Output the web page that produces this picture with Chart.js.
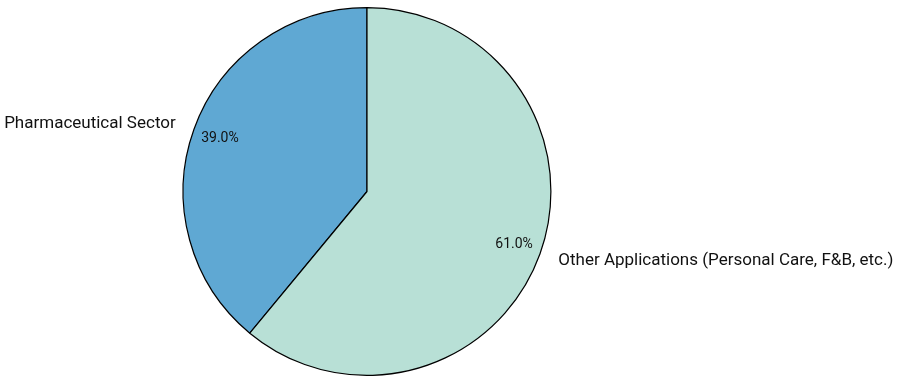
<!DOCTYPE html>
<html>
<head>
<meta charset="utf-8">
<script src="https://cdn.jsdelivr.net/npm/chart.js@4.4.0/dist/chart.umd.min.js"></script>
<style>
  html, body { margin: 0; padding: 0; background: #fff; }
  #wrap { width: 900px; height: 382px; }
</style>
</head>
<body>
<div id="wrap"><canvas id="myChart"></canvas></div>
<script>
// Slice labels and shares (percent)
var labels = ['Pharmaceutical Sector', 'Other Applications (Personal Care, F&B, etc.)'];
var shares = [39.0, 61.0];
var colors = ['#5FA8D3', '#B8E0D6'];

// Draw the outside labels and the percentages inside the slices
const sliceLabels = {
    id: 'sliceLabels',
    afterDraw(chart) {
        const ctx = chart.ctx;
        const meta = chart.getDatasetMeta(0);
        ctx.save();
        ctx.fillStyle = '#111';
        meta.data.forEach(function(arc, i) {
            const mid = (arc.startAngle + arc.endAngle) / 2;
            const r = arc.outerRadius;
            const cos = Math.cos(mid), sin = Math.sin(mid);

            // percentage at 0.85 of the radius
            ctx.font = '14px Roboto';
            ctx.textAlign = 'center';
            ctx.textBaseline = 'middle';
            ctx.fillText(shares[i].toFixed(1) + '%', arc.x + cos * r * 0.85, arc.y + sin * r * 0.85);

            // category label at 1.1 of the radius
            ctx.font = '17px Roboto';
            ctx.textAlign = cos < 0 ? 'right' : 'left';
            ctx.fillText(labels[i], arc.x + cos * (r * 1.1 + 1), arc.y + sin * r * 1.1 + 1);
        });
        ctx.restore();
    }
};

var ctx = document.getElementById('myChart').getContext('2d');

var myChart = new Chart(ctx, {
    type: 'pie',
    data: {
        labels: labels,
        datasets: [{
            data: shares,
            backgroundColor: colors,
            borderColor: '#000',
            borderWidth: 1.2
        }]
    },
    options: {
        responsive: true,
        maintainAspectRatio: false,
        animation: false,
        rotation: -shares[0] * 3.6,  // first slice ends at 12 o'clock
        layout: {
            padding: { left: 0, right: 166, top: 7, bottom: 6 }
        },
        plugins: {
            legend: { display: false },
            tooltip: { enabled: false }
        }
    },
    plugins: [sliceLabels]
});
</script>
</body>
</html>
